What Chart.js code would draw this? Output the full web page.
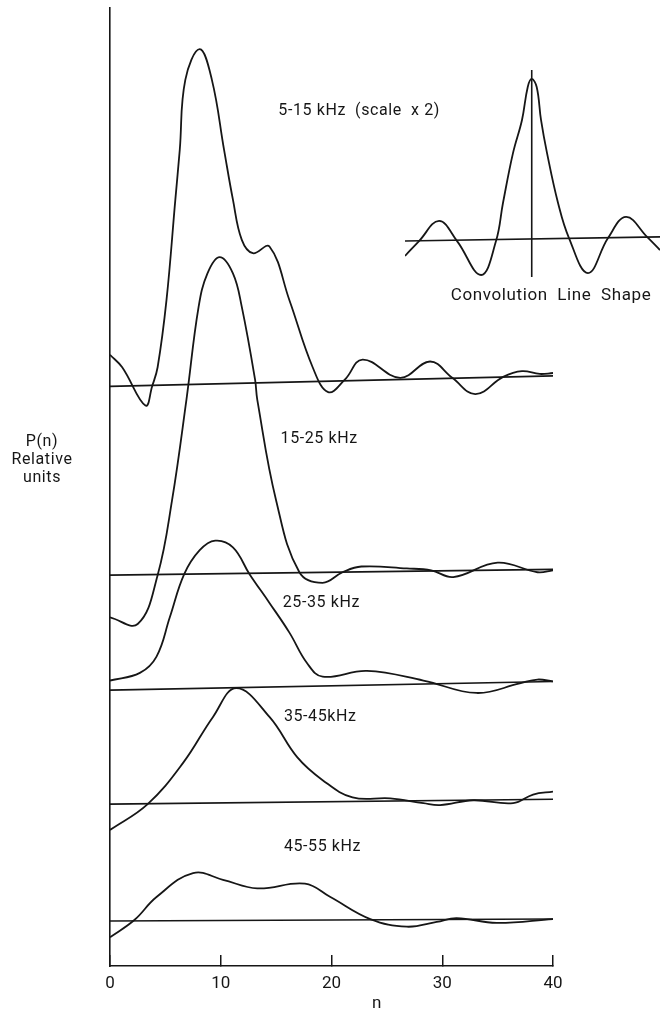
<!DOCTYPE html>
<html>
<head>
<meta charset="utf-8">
<script src="https://cdn.jsdelivr.net/npm/chart.js@4"></script>
<style>
  html, body { margin: 0; padding: 0; background: #fff; }
  #wrap { position: relative; width: 660px; height: 1012px; }
  #main { position: absolute; left: 0; top: 0; }
  #inset { position: absolute; left: 400px; top: 60px; }
</style>
</head>
<body>
<div id="wrap">
  <canvas id="main" width="660" height="1012"></canvas>
  <canvas id="inset" width="260" height="250"></canvas>
</div>
<script>
// n axis ticks
const nTicks = [0, 10, 20, 30, 40];

// each band is drawn at its own vertical offset (relative units, 0..100 over the axis)
const bandNames = ['5-15 kHz  (scale  x 2)', '15-25 kHz', '25-35 kHz', '35-45kHz', '45-55 kHz'];

const band1N = [0, 1.1, 3.2, 3.8, 4.3, 5.1, 5.9, 6.3, 6.8, 8.1, 9.2, 10.3, 11.1, 11.9, 12.9, 14.4, 16.2, 18.3, 19.7, 21.2, 22.8, 26.2, 28.9, 30.9, 33.0, 35.5, 37.2, 38.8, 40];
const band1P = [63.8, 62.5, 58.5, 60.5, 62.5, 69.5, 80.0, 85.2, 92.5, 95.7, 92.5, 85.2, 80.0, 75.8, 74.4, 75.1, 69.5, 62.5, 59.9, 61.2, 63.3, 61.4, 63.1, 61.4, 59.7, 61.5, 62.1, 61.8, 61.9];

const band2N = [0, 2.5, 4.3, 5.6, 6.9, 8.0, 8.8, 9.9, 11.1, 11.9, 13.1, 13.3, 15.0, 17.1, 19.2, 21.0, 22.7, 26.8, 29.0, 31.0, 35.0, 38.6, 40];
const band2P = [36.4, 35.7, 40.8, 48.6, 59.1, 68.8, 72.3, 74.0, 72.3, 68.8, 61.2, 59.1, 48.6, 41.1, 40.0, 41.1, 41.7, 41.5, 41.3, 40.6, 42.1, 41.1, 41.3];

const band3N = [0, 2.7, 4.2, 5.4, 6.7, 8.1, 9.5, 11.1, 12.6, 14.4, 16.2, 17.8, 19.2, 23.2, 28.3, 33.1, 37.0, 38.6, 40];
const band3P = [29.8, 30.6, 32.3, 36.4, 40.9, 43.4, 44.4, 43.7, 40.9, 37.9, 34.8, 31.6, 30.2, 30.8, 29.8, 28.5, 29.5, 29.9, 29.7];

const band4N = [0, 3.4, 6.6, 9.3, 11.4, 14.4, 16.9, 19.2, 21.9, 25.3, 28.3, 29.8, 32.8, 36.4, 38.2, 40];
const band4P = [14.2, 16.9, 21.2, 26.0, 29.0, 26.0, 21.8, 19.4, 17.6, 17.5, 17.0, 16.8, 17.3, 17.0, 17.9, 18.2];

const band5N = [0, 2.2, 4.2, 7.5, 10.2, 13.3, 17.6, 19.9, 23.5, 26.8, 29.5, 31.3, 34.9, 40];
const band5P = [3.0, 4.8, 7.2, 9.7, 9.0, 8.1, 8.6, 7.2, 4.9, 4.1, 4.6, 5.0, 4.5, 4.9];

// zero lines of the bands, value at n = 0 and at n = 40
const baseAt0 = [60.5, 40.8, 28.8, 16.9, 4.7];
const baseAt40 = [61.6, 41.4, 29.7, 17.4, 4.9];

// where each band name sits (n, relative units)
const nameAtN = [15.2, 15.4, 15.6, 15.7, 15.7];
const nameAtP = [89.3, 55.0, 37.9, 26.0, 12.4];

// instrument line shape, n offset from centre, normalised to its peak
const shapeN = [-11.46, -10.19, -8.38, -6.75, -4.58, -3.23, -2.6, -1.69, -0.88, -0.36, 0, 0.45, 0.84, 1.38, 2.38, 3.37, 5.09, 6.9, 8.53, 10.43, 11.6];
const shapeP = [-0.106, -0.013, 0.113, -0.013, -0.225, -0.013, 0.225, 0.538, 0.744, 0.95, 1.0, 0.95, 0.744, 0.538, 0.225, 0.006, -0.213, 0.006, 0.138, 0.013, -0.069];
const shapeBase = [-0.013, 0.013];

const INK = '#161616';
const FONT = 'Roboto, "Liberation Sans", sans-serif';

const pts = (xs, ys) => xs.map((x, i) => ({x: x, y: ys[i]}));

function curve(xs, ys) {
    return {
        data: pts(xs, ys),
        borderColor: INK,
        borderWidth: 1.8,
        pointRadius: 0,
        fill: false,
        tension: 0.4
    };
}

function straight(data, width) {
    return {
        data: data,
        borderColor: INK,
        borderWidth: width || 1.6,
        pointRadius: 0,
        fill: false,
        tension: 0
    };
}

const bands = [[band1N, band1P], [band2N, band2P], [band3N, band3P], [band4N, band4P], [band5N, band5P]];
const mainSets = [];
bands.forEach((b, i) => {
    mainSets.push(straight([{x: 0, y: baseAt0[i]}, {x: 40, y: baseAt40[i]}]));
    mainSets.push(curve(b[0], b[1]));
});

// text written onto the plot in data coordinates
const mainText = {
    id: 'mainText',
    afterDatasetsDraw(chart) {
        const {ctx, scales: {x, y}, chartArea} = chart;
        ctx.save();
        ctx.fillStyle = INK;
        ctx.font = '16px ' + FONT;
        ctx.letterSpacing = '0.6px';
        ctx.textBaseline = 'middle';
        ctx.textAlign = 'left';
        bandNames.forEach((t, i) => {
            ctx.fillText(t, x.getPixelForValue(nameAtN[i]), y.getPixelForValue(nameAtP[i]));
        });
        // vertical axis caption
        ctx.textAlign = 'center';
        const cx = chartArea.left - 68;
        ctx.fillText('P(n)', cx, 442);
        ctx.fillText('Relative', cx, 460);
        ctx.fillText('units', cx, 478);
        // horizontal axis caption
        ctx.font = '17px ' + FONT;
        ctx.fillText('n', x.getPixelForValue(24.1), chartArea.bottom + 38);
        ctx.restore();
    }
};

new Chart(document.getElementById('main'), {
    type: 'line',
    data: {datasets: mainSets},
    options: {
        responsive: false,
        animation: false,
        events: [],
        layout: {padding: {left: 110, right: 107, top: 8, bottom: 0}},
        plugins: {legend: {display: false}, tooltip: {enabled: false}},
        scales: {
            x: {
                type: 'linear',
                min: 0,
                max: 40,
                afterBuildTicks: s => { s.ticks = nTicks.map(v => ({value: v})); },
                afterFit: s => { s.height = 46; },
                grid: {
                    display: true,
                    drawOnChartArea: false,
                    drawTicks: true,
                    tickLength: -11,
                    color: INK,
                    lineWidth: 1.5
                },
                border: {display: true, color: INK, width: 1.6},
                ticks: {
                    color: INK,
                    font: {family: FONT, size: 17},
                    padding: 19,
                    maxRotation: 0
                }
            },
            y: {
                type: 'linear',
                min: 0,
                max: 100,
                afterFit: s => { s.width = 0; },
                grid: {display: false},
                border: {display: true, color: INK, width: 1.6},
                ticks: {display: false}
            }
        }
    },
    plugins: [mainText]
});

// inset: the convolution line shape
const insetText = {
    id: 'insetText',
    afterDatasetsDraw(chart) {
        const {ctx, scales: {x}, chartArea} = chart;
        ctx.save();
        ctx.fillStyle = INK;
        ctx.font = '17px ' + FONT;
        ctx.letterSpacing = '0.6px';
        ctx.textAlign = 'center';
        ctx.textBaseline = 'middle';
        ctx.fillText('Convolution  Line  Shape', x.getPixelForValue(1.75), chartArea.bottom + 19);
        ctx.restore();
    }
};

new Chart(document.getElementById('inset'), {
    type: 'line',
    data: {
        datasets: [
            straight([{x: -11.46, y: shapeBase[0]}, {x: 11.6, y: shapeBase[1]}]),
            straight([{x: 0, y: -0.2375}, {x: 0, y: 1.056}]),
            curve(shapeN, shapeP)
        ]
    },
    options: {
        responsive: false,
        animation: false,
        events: [],
        layout: {padding: {left: 5, right: 0, top: 10, bottom: 0}},
        plugins: {legend: {display: false}, tooltip: {enabled: false}},
        scales: {
            x: {
                type: 'linear', min: -11.46, max: 11.6, display: true,
                afterFit: s => { s.height = 33; },
                grid: {display: false}, border: {display: false}, ticks: {display: false}
            },
            y: {
                type: 'linear', min: -0.2375, max: 1.056, display: true,
                afterFit: s => { s.width = 0; },
                grid: {display: false}, border: {display: false}, ticks: {display: false}
            }
        }
    },
    plugins: [insetText]
});
</script>
</body>
</html>
